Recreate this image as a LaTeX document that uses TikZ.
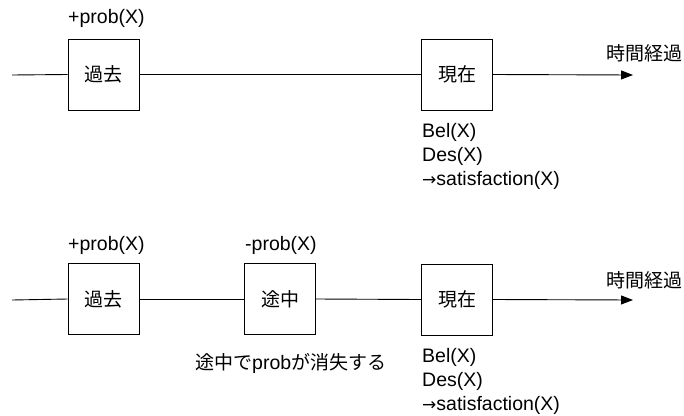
\documentclass[tikz,border=0pt]{standalone}
\usepackage{fontspec}
\setmainfont{Liberation Sans}
\newfontfamily\jp{Noto Sans CJK JP}
\newfontfamily\djv{DejaVu Sans}
\usetikzlibrary{arrows.meta}
\begin{document}
\begin{tikzpicture}[x=1pt,y=-1pt,
  box/.style={draw,line width=0.9pt,minimum width=71pt,minimum height=71pt,inner sep=0pt,font=\jp\fontsize{19}{20}\selectfont},
  lbl/.style={anchor=west,inner sep=0pt,font=\fontsize{19.5}{21}\selectfont},
  jlbl/.style={anchor=west,inner sep=0pt,font=\jp\fontsize{19}{20}\selectfont},
  conn/.style={line width=0.9pt},
  arr/.style={line width=0.9pt,-{Triangle[length=12pt,width=9pt]}}]
\useasboundingbox (0,0) rectangle (684,415);
% top row
\coordinate (s1) at (12,75);
\coordinate (e1) at (633,75);
\node[box] (past1) at (103.5,74.5) {過去};
\node[box] (now1) at (457,74.5) {現在};
\draw[conn] (s1) -- (past1.west);
\draw[conn] (past1.east) -- (now1.west);
\draw[arr] (now1.east) -- (e1);
\node[jlbl] (time1) at (606,53) {時間経過};
\node[lbl] (prob1) at (68,18) {+prob(X)};
\node[lbl] (bel1) at (422,132) {Bel(X)};
\node[lbl] (des1) at (422,156) {Des(X)};
\node[lbl] (sat1) at (422,180) {{\djv\fontsize{17}{18}\selectfont →}satisfaction(X)};
% bottom row
\coordinate (s2) at (12,300);
\coordinate (e2) at (633,300);
\node[box] (past2) at (103.5,299) {過去};
\node[box] (mid2) at (280,299) {途中};
\node[box] (now2) at (457,299.5) {現在};
\draw[conn] (s2) -- (past2.west);
\draw[conn] (past2.east) -- (mid2.west);
\draw[conn] (mid2.east) -- (now2.west);
\draw[arr] (now2.east) -- (e2);
\node[jlbl] (time2) at (606,280) {時間経過};
\node[lbl] (prob2) at (68,245) {+prob(X)};
\node[lbl] (mprob2) at (245,245) {-prob(X)};
\node[jlbl] (note2) at (195,363) {途中で{\fontspec{Liberation Sans}\fontsize{19.5}{21}\selectfont prob}が消失する};
\node[lbl] (bel2) at (422,357) {Bel(X)};
\node[lbl] (des2) at (422,381) {Des(X)};
\node[lbl] (sat2) at (422,405) {{\djv\fontsize{17}{18}\selectfont →}satisfaction(X)};
\end{tikzpicture}
\end{document}
